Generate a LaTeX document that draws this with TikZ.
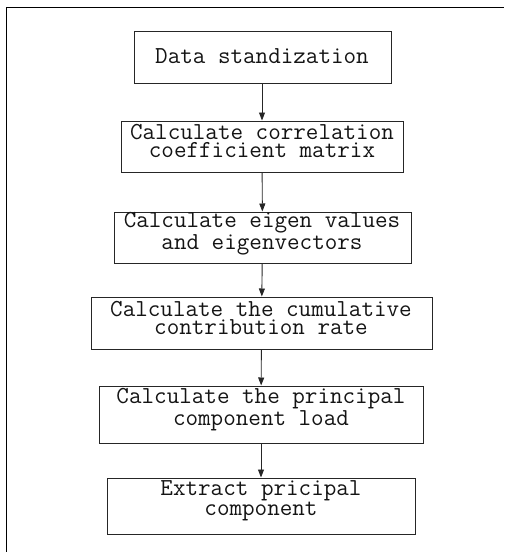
\documentclass[tikz,border=0pt]{standalone}
\usetikzlibrary{arrows.meta}
\begin{document}
\begin{tikzpicture}[x=1pt,y=-1pt,
  stepbox/.style={draw=black!85, line width=1pt, inner sep=0pt},
  steptext/.style={inner sep=0pt, align=center,
    font=\fontsize{24.4}{18.3}\selectfont\ttfamily, text=black!92},
  flow/.style={draw=black!85, line width=0.9pt, -{Triangle[width=6pt,length=8pt]}}]
\useasboundingbox (0,0) rectangle (504,552);
\draw[line width=1.8pt] (6.5,552) -- (6.5,7.5) -- (504,7.5);
\node[stepbox, minimum width=257pt, minimum height=52pt] (s1) at (262.5,57) {};
\node[stepbox, minimum width=282pt, minimum height=51pt] (s2) at (262,146.5) {};
\node[stepbox, minimum width=297pt, minimum height=51pt] (s3) at (262.5,237.5) {};
\node[stepbox, minimum width=341pt, minimum height=52pt] (s4) at (261.5,323) {};
\node[stepbox, minimum width=324pt, minimum height=57pt] (s5) at (261,414.5) {};
\node[stepbox, minimum width=308pt, minimum height=56pt] (s6) at (261,506) {};
\node[steptext] (t1) at (262,56) {Data standization};
\node[steptext] (t2) at (262,141) {Calculate correlation\\coefficient matrix};
\node[steptext] (t3) at (262,233.5) {Calculate eigen values\\and eigenvectors};
\node[steptext] (t4) at (261,318) {Calculate the cumulative\\contribution rate};
\node[steptext] (t5) at (261,409.5) {Calculate the principal\\component load};
\node[steptext] (t6) at (261,500.5) {Extract pricipal\\component};
\draw[flow] (s1.south -| 262,0) -- (s2.north -| 262,0);
\draw[flow] (s2) -- (s3);
\draw[flow] (s3) -- (s4);
\draw[flow] (s4) -- (s5);
\draw[flow] (s5) -- (s6);
\end{tikzpicture}
\end{document}
